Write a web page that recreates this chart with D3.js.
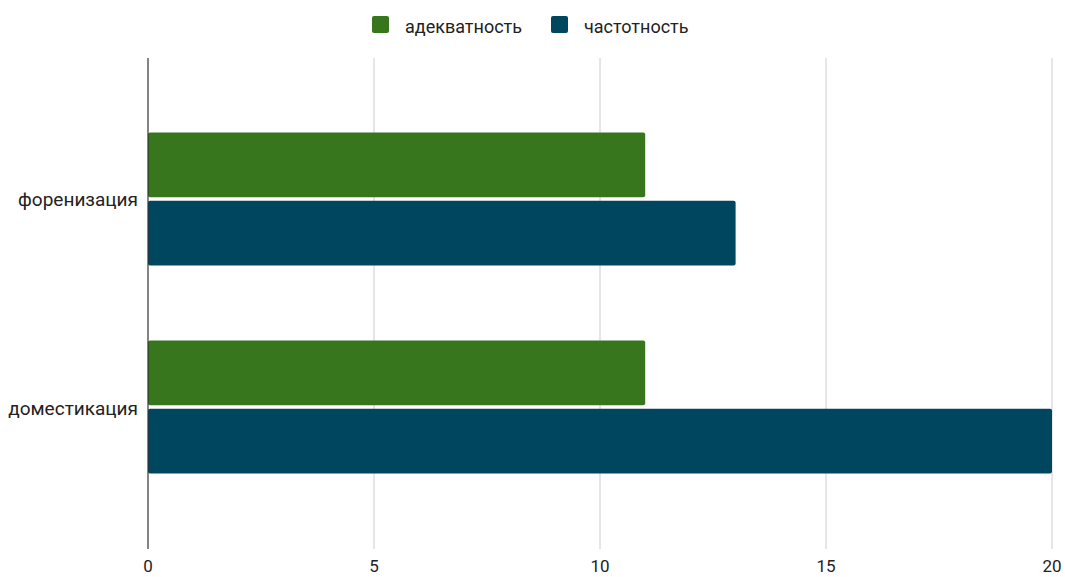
<!DOCTYPE html>
<html><head><meta charset="utf-8">
<script src="https://cdn.jsdelivr.net/npm/d3@7"></script>
<style>body{margin:0;background:#fff;} text{font-family:Roboto, sans-serif;}</style>
</head><body>
<svg id="c" width="1065" height="577"></svg>
<script>
const categories = ["форенизация", "доместикация"];
const seriesNames = ["адекватность", "частотность"];
const adequacy = [11, 11];
const frequency = [13, 20];
const xTicks = [0, 5, 10, 15, 20];
const colors = ["#38761d", "#01465f"];

const svg = d3.select("#c");
const mLeft = 148, mRight = 1052, mTop = 58, mBottom = 549;
const x = d3.scaleLinear().domain([0, 20]).range([mLeft, mRight]);
const y = d3.scalePoint().domain(categories).range([mTop, mBottom]).padding(0.68);
const sub = d3.scaleBand().domain(seriesNames).range([-67, 66]).paddingInner(0.05);

// gridlines
svg.append("g").selectAll("line").data(xTicks.filter(d => d !== 0)).join("line")
  .attr("x1", d => x(d)).attr("x2", d => x(d)).attr("y1", mTop).attr("y2", mBottom)
  .attr("stroke", "#cccccc").attr("stroke-width", 1);

const data = [];
categories.forEach((c, i) => {
  data.push({c, s: seriesNames[0], v: adequacy[i], col: colors[0]});
  data.push({c, s: seriesNames[1], v: frequency[i], col: colors[1]});
});
svg.append("g").selectAll("rect").data(data).join("rect")
  .attr("x", x(0)).attr("y", d => y(d.c) + sub(d.s))
  .attr("width", d => x(d.v) - x(0)).attr("height", sub.bandwidth())
  .attr("rx", 2).attr("fill", d => d.col);

// axis line at zero
svg.append("line").attr("x1", x(0)).attr("x2", x(0)).attr("y1", mTop).attr("y2", mBottom)
  .attr("stroke", "#333").attr("stroke-width", 1.2);

// x tick labels
svg.append("g").selectAll("text").data(xTicks).join("text")
  .attr("x", d => x(d)).attr("y", 572).attr("text-anchor", "middle")
  .attr("font-size", 17).attr("fill", "#222").text(d => d);

// category labels
svg.append("g").selectAll("text").data(categories).join("text")
  .attr("x", 138).attr("y", d => y(d) + 7).attr("text-anchor", "end")
  .attr("font-size", 19).attr("fill", "#222").text(d => d);

// legend
const legX = [372, 551];
const lg = svg.append("g").selectAll("g").data(seriesNames).join("g")
  .attr("transform", (d, i) => `translate(${legX[i]},16)`);
lg.append("rect").attr("width", 17).attr("height", 17).attr("rx", 2).attr("fill", (d, i) => colors[i]);
lg.append("text").attr("x", 33).attr("y", 17).attr("font-size", 18).attr("fill", "#222").text(d => d);
</script>
</body></html>
